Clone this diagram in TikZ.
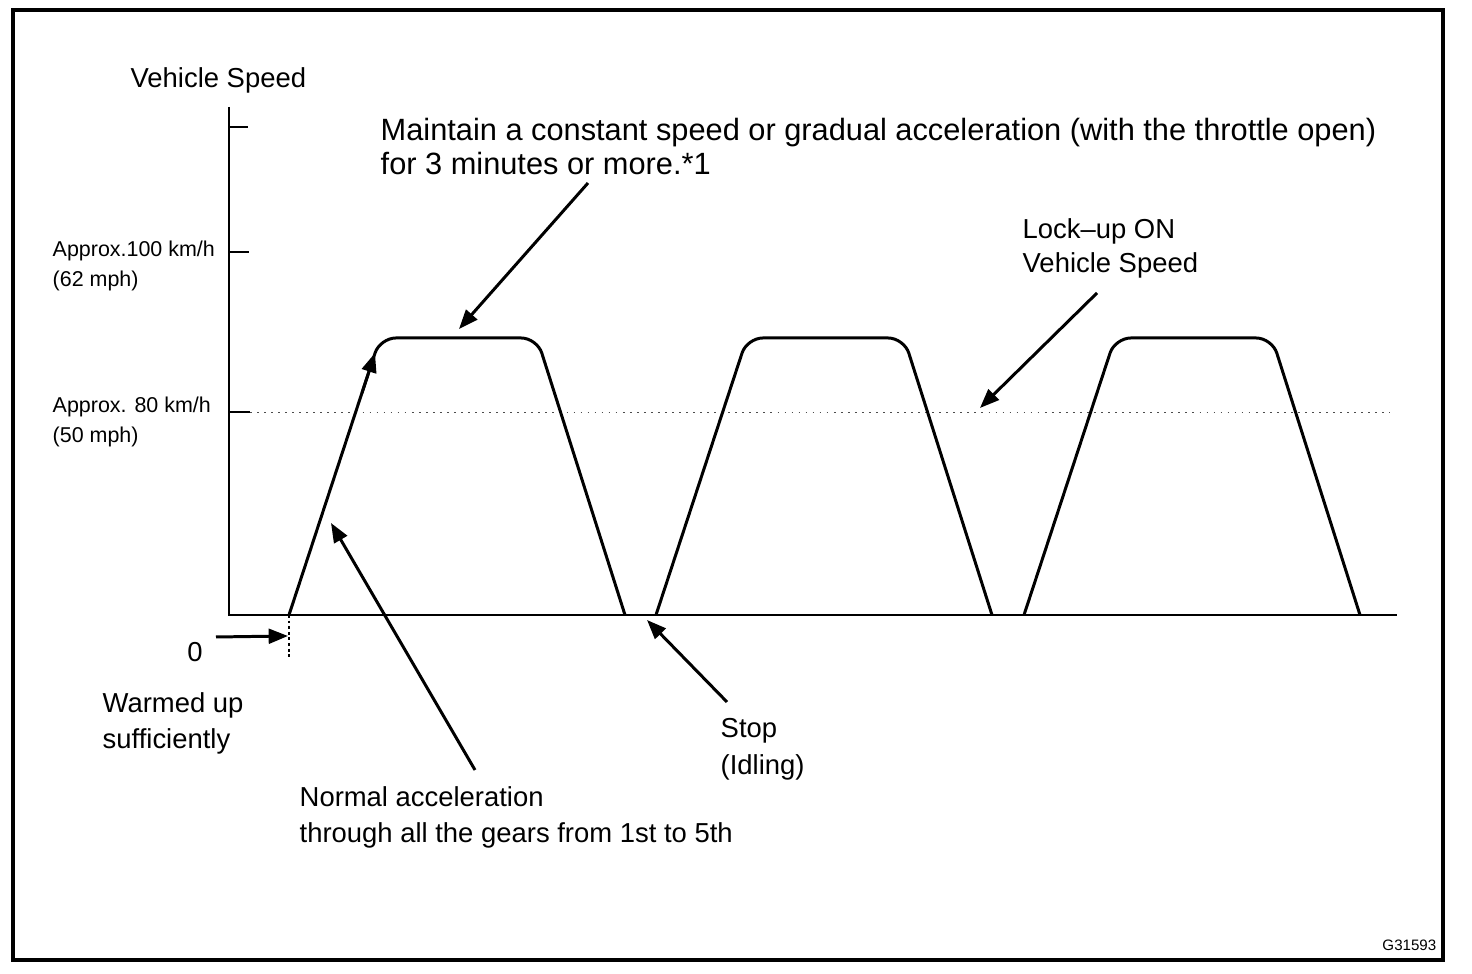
\documentclass[tikz,border=0pt]{standalone}
\usepackage{fontspec}
\setmainfont{Liberation Sans}
\usetikzlibrary{arrows.meta}
\tikzset{
  lbl/.style={anchor=base west,inner sep=0pt,font=\fontsize{7.8}{9}\selectfont},
  biglbl/.style={anchor=base west,inner sep=0pt,font=\fontsize{8.75}{10}\selectfont},
  axlbl/.style={anchor=base west,inner sep=0pt,font=\fontsize{6.1}{7}\selectfont},
  callout/.style={-{Triangle[length=5.5pt,width=4.2pt]},line width=0.85pt},
  trace/.style={line width=0.85pt,rounded corners=4.5pt},
}

\begin{document}
\begin{tikzpicture}[x=0.01cm,y=-0.01cm]
  \useasboundingbox (0,0) rectangle (1472,974);
  \draw[line width=1.2pt] (13,10) rectangle (1443,960);
  % axes and ticks
  \draw[line width=0.6pt] (229,107) -- (229,615) -- (1397,615);
  \draw[line width=0.4pt] (229,127) -- (248,127);
  \draw[line width=0.4pt] (229,252) -- (249,252);
  \draw[line width=0.6pt] (229,412) -- (250,412);
  \draw[line width=0.25pt,black!70,dash pattern=on 0.5pt off 1.5pt] (250,412) -- (1390,412);
  \draw[line width=0.3pt,dash pattern=on 0.8pt off 0.8pt] (289,615) -- (289,658);
  % speed trace, three cycles
  \foreach \s in {0,367,735}
    \draw[trace] (289+\s,615) -- (380+\s,338) -- (537+\s,338) -- (625+\s,615);
  % axis labels
  \node[lbl] (vs) at (130,88) {Vehicle Speed};
  \node[axlbl] (hi1) at (52,257) {Approx.100 km/h};
  \node[axlbl] (hi2) at (52,287) {(62 mph)};
  \node[axlbl] (lo1) at (52,413) {Approx. 80 km/h};
  \node[axlbl] (lo2) at (52,443) {(50 mph)};
  \node[lbl,anchor=base] (zero) at (195,662) {0};
  % annotations
  \node[biglbl] (keep1) at (380,141) {Maintain a constant speed or gradual acceleration (with the throttle open)};
  \node[biglbl] (keep2) at (380,175) {for 3 minutes or more.*1};
  \node[lbl] (lock1) at (1022,239) {Lock--up ON};
  \node[lbl] (lock2) at (1022,273) {Vehicle Speed};
  \node[lbl] (warm1) at (102,713) {Warmed up};
  \node[lbl] (warm2) at (102,749) {sufficiently};
  \node[lbl] (stop1) at (720,738) {Stop};
  \node[lbl] (stop2) at (720,775) {(Idling)};
  \node[lbl] (accel1) at (299,807) {Normal acceleration};
  \node[lbl] (accel2) at (299,843) {through all the gears from 1st to 5th};
  \node[anchor=base east,inner sep=0pt,font=\fontsize{4.3}{5}\selectfont] (code) at (1437,951) {G31593};
  % arrow ends
  \coordinate (keepT) at (588,183);  \coordinate (keepH) at (459,329);
  \coordinate (lockT) at (1097,293); \coordinate (lockH) at (980,408);
  \coordinate (stopT) at (727,702);  \coordinate (stopH) at (647,620);
  \coordinate (accT) at (475,770);   \coordinate (accH) at (331,523);
  \coordinate (zeroT) at (216,637);  \coordinate (zeroH) at (288,636);
  \coordinate (riseT) at (362,393);  \coordinate (riseH) at (375,353);
  \draw[callout] (keepT) -- (keepH);
  \draw[callout] (lockT) -- (lockH);
  \draw[callout] (stopT) -- (stopH);
  \draw[callout] (accT) -- (accH);
  \draw[callout] (zeroT) -- (zeroH);
  \draw[callout] (riseT) -- (riseH);
\end{tikzpicture}
\end{document}
